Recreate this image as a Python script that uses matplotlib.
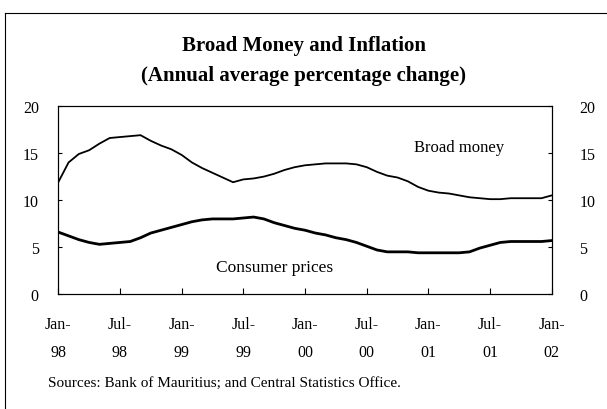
import matplotlib.pyplot as plt
import matplotlib.lines as mlines

# monthly series, Jan-98 .. Jan-02
broad_money = [11.9, 14.0, 14.9, 15.3, 16.0, 16.6, 16.7, 16.8, 16.9, 16.3,
               15.8, 15.4, 14.8, 14.0, 13.4, 12.9, 12.4, 11.9, 12.2, 12.3,
               12.5, 12.8, 13.2, 13.5, 13.7, 13.8, 13.9, 13.9, 13.9, 13.8,
               13.5, 13.0, 12.6, 12.4, 12.0, 11.4, 11.0, 10.8, 10.7, 10.5,
               10.3, 10.2, 10.1, 10.1, 10.2, 10.2, 10.2, 10.2, 10.5]
consumer_prices = [6.6, 6.2, 5.8, 5.5, 5.3, 5.4, 5.5, 5.6, 6.0, 6.5,
                   6.8, 7.1, 7.4, 7.7, 7.9, 8.0, 8.0, 8.0, 8.1, 8.2,
                   8.0, 7.6, 7.3, 7.0, 6.8, 6.5, 6.3, 6.0, 5.8, 5.5,
                   5.1, 4.7, 4.5, 4.5, 4.5, 4.4, 4.4, 4.4, 4.4, 4.4,
                   4.5, 4.9, 5.2, 5.5, 5.6, 5.6, 5.6, 5.6, 5.7]
tick_labels = ["Jan-\n98", "Jul-\n98", "Jan-\n99", "Jul-\n99", "Jan-\n00",
               "Jul-\n00", "Jan-\n01", "Jul-\n01", "Jan-\n02"]
y_ticks = [0, 5, 10, 15, 20]

months = list(range(len(broad_money)))

plt.rcParams["font.family"] = ["Liberation Serif", "DejaVu Serif"]

fig = plt.figure(figsize=(6.07, 4.10), dpi=100)
ax = fig.add_axes([0.096, 0.28, 0.813, 0.459])

ax.plot(months, broad_money, color="black", linewidth=1.3)
ax.plot(months, consumer_prices, color="black", linewidth=2.0)

ax.set_xlim(0, 48)
ax.set_ylim(0, 20)
ax.set_xticks(range(0, 49, 6))
ax.set_xticklabels(tick_labels, fontsize=11.5, linespacing=1.95)
ax.set_yticks(y_ticks)
ax.tick_params(axis="x", direction="in", length=4, pad=16)
ax.tick_params(axis="y", direction="in", length=3, labelsize=11.5, pad=14)

ax2 = ax.twinx()
ax2.set_ylim(0, 20)
ax2.set_yticks(y_ticks)
ax2.tick_params(axis="y", direction="in", length=3, labelsize=11.5, pad=20)

for a in (ax, ax2):
    for s in a.spines.values():
        s.set_linewidth(0.8)

ax.text(39, 15.6, "Broad money", fontsize=12, ha="center", va="center")
ax.text(21, 2.9, "Consumer prices", fontsize=12.5, ha="center", va="center")

fig.text(0.5, 0.888, "Broad Money and Inflation", fontsize=15,
         fontweight="bold", ha="center", va="center")
fig.text(0.5, 0.815, "(Annual average percentage change)", fontsize=15,
         fontweight="bold", ha="center", va="center")
fig.text(0.079, 0.064, "Sources: Bank of Mauritius; and Central Statistics Office.",
         fontsize=11, ha="left", va="center")

# scanned box edges (left and top)
fig.add_artist(mlines.Line2D([0.009, 0.009], [0.0, 0.965], color="black",
                             linewidth=0.8, transform=fig.transFigure))
fig.add_artist(mlines.Line2D([0.009, 1.0], [0.965, 0.965], color="black",
                             linewidth=0.8, transform=fig.transFigure))

fig.savefig("out.png", dpi=100)
